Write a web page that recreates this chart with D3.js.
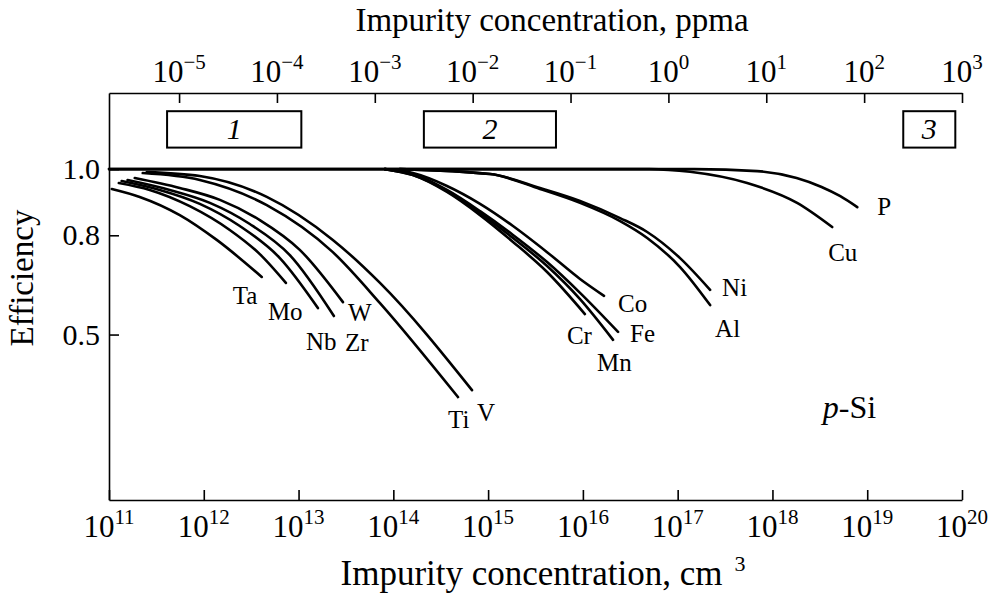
<!DOCTYPE html>
<html>
<head>
<meta charset="utf-8">
<script src="https://cdn.jsdelivr.net/npm/d3@7"></script>
<style>
body { margin: 0; background: #fff; }
svg { display: block; font-family: "Liberation Serif", "Times New Roman", serif; }
</style>
</head>
<body>
<svg id="chart" width="996" height="597"></svg>
<script>
// tick exponents
const cmExponents = [11, 12, 13, 14, 15, 16, 17, 18, 19, 20];
const ppmaExponents = [-5, -4, -3, -2, -1, 0, 1, 2, 3];
const effTicks = [0.5, 0.8, 1.0];

// efficiency vs impurity concentration (cm^-3), p-Si
const ta = [[1.07e11, 0.940], [2.11e11, 0.916], [5.58e11, 0.861], [1.37e12, 0.786], [4.09e12, 0.674]];
const mo = [[1.27e11, 0.958], [2.69e11, 0.937], [7.11e11, 0.888], [1.88e12, 0.816], [3.90e12, 0.743], [7.35e12, 0.656]];
const nb = [[1.36e11, 0.964], [3.43e11, 0.937], [9.08e11, 0.895], [2.40e12, 0.828], [6.35e12, 0.731], [1.60e13, 0.580]];
const zr = [[1.57e11, 0.967], [4.37e11, 0.937], [1.16e12, 0.898], [3.06e12, 0.834], [8.09e12, 0.740], [2.36e13, 0.556]];
const w  = [[1.87e11, 0.973], [5.58e11, 0.943], [1.48e12, 0.907], [3.90e12, 0.846], [1.03e13, 0.756], [2.94e13, 0.598]];
const ti = [[2.27e11, 0.988], [9.08e11, 0.967], [4.62e12, 0.891], [2.30e13, 0.749], [7.23e13, 0.595], [4.81e14, 0.311]];
const v  = [[2.50e11, 0.991], [9.08e11, 0.979], [4.62e12, 0.916], [2.30e13, 0.786], [7.23e13, 0.656], [6.76e14, 0.332]];
const cr = [[8.15e13, 1.0], [1.61e14, 0.982], [3.68e14, 0.931], [8.22e14, 0.861], [1.83e15, 0.780], [4.19e15, 0.689], [1.05e16, 0.562]];
const mn = [[8.15e13, 1.0], [1.61e14, 0.982], [3.68e14, 0.934], [8.22e14, 0.867], [1.83e15, 0.792], [4.19e15, 0.707], [9.33e15, 0.607], [2.08e16, 0.484]];
const fe = [[8.15e13, 1.0], [1.61e14, 0.985], [3.68e14, 0.937], [8.22e14, 0.873], [1.83e15, 0.801], [4.19e15, 0.719], [9.33e15, 0.626], [2.35e16, 0.508]];
const co = [[8.15e13, 1.0], [1.61e14, 0.988], [3.68e14, 0.949], [8.22e14, 0.895], [1.83e15, 0.828], [4.19e15, 0.749], [9.33e15, 0.668], [1.67e16, 0.617]];
const ni = [[1.17e14, 1.0], [1.05e15, 0.985], [3.53e15, 0.943], [9.33e15, 0.904], [2.47e16, 0.852], [4.77e16, 0.810], [1.06e17, 0.731], [2.20e17, 0.635]];
const al = [[1.17e14, 1.0], [1.05e15, 0.985], [3.53e15, 0.940], [9.33e15, 0.898], [2.47e16, 0.843], [4.77e16, 0.792], [1.06e17, 0.704], [2.20e17, 0.589]];
const cu = [[1e11, 1.0], [5.0e16, 1.0], [1.35e17, 0.992], [5.41e17, 0.958], [1.82e18, 0.898], [4.27e18, 0.825]];
const p  = [[1e11, 1.0], [1.5e17, 1.0], [6.90e17, 0.994], [1.8e18, 0.973], [3.3e18, 0.946], [5.2e18, 0.918], [7.85e18, 0.885]];

const series = [
  {name: 'Ta', pts: ta}, {name: 'Mo', pts: mo}, {name: 'Nb', pts: nb}, {name: 'Zr', pts: zr},
  {name: 'W', pts: w}, {name: 'Ti', pts: ti}, {name: 'V', pts: v},
  {name: 'Cr', pts: cr}, {name: 'Mn', pts: mn}, {name: 'Fe', pts: fe}, {name: 'Co', pts: co},
  {name: 'Ni', pts: ni}, {name: 'Al', pts: al}, {name: 'Cu', pts: cu}, {name: 'P', pts: p}
];

// purity ranges marked with boxes (cm^-3)
const boxes = [
  {label: '1', from: 4.1e11, to: 1.07e13},
  {label: '2', from: 2.1e14, to: 5.2e15},
  {label: '3', from: 2.4e19, to: 8.5e19}
];

// label offset from the end of each curve, px
const labelShift = {
  Ta: [-29, 27], Mo: [-18, 37], Nb: [-12, 42], Zr: [11, 35], W: [5, 19],
  Ti: [-10, 31], V: [5, 31], Co: [14, 16], Cr: [-18, 30], Fe: [12, 10],
  Mn: [-16, 31], Ni: [12, 6], Al: [5, 32], Cu: [-4, 34], P: [20, 8]
};

const margin = {top: 93, right: 34, bottom: 97, left: 109};
const width = 996 - margin.left - margin.right;
const height = 597 - margin.top - margin.bottom;

const x = d3.scaleLog().domain([1e11, 1e20]).range([0, width]);
const xTop = d3.scaleLog().domain([Math.pow(10, -5.716), 1e3]).range([0, width]);
const y = d3.scaleLinear().domain([0, 1.23]).range([height, 0]);

const svg = d3.select('#chart');
const chart = svg.append('g')
  .attr('transform', `translate(${margin.left}, ${margin.top})`);

function styleAxis(g) {
  g.attr('font-family', null).attr('font-size', null);
  g.select('.domain').attr('stroke', '#000').attr('stroke-width', 1.6);
  g.selectAll('.tick line').attr('stroke', '#000').attr('stroke-width', 1.6);
}

function powerLabel(sel, exp) {
  sel.append('tspan').text('10');
  sel.append('tspan')
    .attr('font-size', 21)
    .attr('dy', -13)
    .text(String(exp).replace('-', '\u2212'));
}

// bottom axis
chart.append('g')
  .attr('transform', `translate(0, ${height})`)
  .call(d3.axisBottom(x)
    .tickValues(cmExponents.map(e => Math.pow(10, e)))
    .tickSizeInner(-10).tickSizeOuter(0).tickFormat(''))
  .call(styleAxis);

cmExponents.forEach(e => {
  chart.append('text')
    .attr('x', x(Math.pow(10, e)))
    .attr('y', height + 37)
    .attr('text-anchor', 'middle')
    .attr('font-size', 31)
    .call(powerLabel, e);
});

// top axis
chart.append('g')
  .call(d3.axisTop(xTop)
    .tickValues(ppmaExponents.map(e => Math.pow(10, e)))
    .tickSizeInner(-10).tickSizeOuter(0).tickFormat(''))
  .call(styleAxis);

ppmaExponents.forEach(e => {
  chart.append('text')
    .attr('x', xTop(Math.pow(10, e)))
    .attr('y', -11)
    .attr('text-anchor', 'middle')
    .attr('font-size', 31)
    .call(powerLabel, e);
});

// left axis
chart.append('g')
  .call(d3.axisLeft(y)
    .tickValues(effTicks)
    .tickSizeInner(-10).tickSizeOuter(0).tickPadding(9)
    .tickFormat(d3.format('.1f')))
  .call(styleAxis)
  .selectAll('.tick text')
    .attr('font-size', 30)
    .attr('fill', '#000');

// axis titles
svg.append('text')
  .attr('x', 552).attr('y', 31)
  .attr('text-anchor', 'middle')
  .attr('font-size', 33)
  .text('Impurity concentration, ppma');

const bottomTitle = svg.append('text')
  .attr('x', 543).attr('y', 585)
  .attr('text-anchor', 'middle')
  .attr('font-size', 35);
bottomTitle.append('tspan').text('Impurity concentration, cm');
bottomTitle.append('tspan').attr('font-size', 22).attr('dx', 12).attr('dy', -14).text('3');

svg.append('text')
  .attr('transform', 'translate(33, 278) rotate(-90)')
  .attr('text-anchor', 'middle')
  .attr('font-size', 33)
  .text('Efficiency');

// boxes
const box = chart.selectAll('.box')
    .data(boxes)
  .enter().append('g')
    .attr('class', 'box');

box.append('rect')
  .attr('x', d => x(d.from))
  .attr('y', y(1.175))
  .attr('width', d => x(d.to) - x(d.from))
  .attr('height', y(1.065) - y(1.175))
  .attr('fill', 'none')
  .attr('stroke', '#000')
  .attr('stroke-width', 2);

box.append('text')
  .attr('x', d => (x(d.from) + x(d.to)) / 2)
  .attr('y', y(1.065) - 9)
  .attr('text-anchor', 'middle')
  .attr('font-size', 30)
  .attr('font-style', 'italic')
  .text(d => d.label);

// curves
const line = d3.line()
  .x(d => x(d[0]))
  .y(d => y(d[1]))
  .curve(d3.curveMonotoneX);

chart.selectAll('.curve')
    .data(series)
  .enter().append('path')
    .attr('class', 'curve')
    .attr('d', d => line(d.pts))
    .attr('fill', 'none')
    .attr('stroke', '#000')
    .attr('stroke-width', 2.6)
    .attr('stroke-linecap', 'round');

chart.selectAll('.curve-label')
    .data(series)
  .enter().append('text')
    .attr('class', 'curve-label')
    .attr('x', d => x(d.pts[d.pts.length - 1][0]) + labelShift[d.name][0])
    .attr('y', d => y(d.pts[d.pts.length - 1][1]) + labelShift[d.name][1])
    .attr('font-size', 25)
    .text(d => d.name);

// material note
const note = chart.append('text')
  .attr('x', x(3.4e18))
  .attr('y', y(0.248))
  .attr('font-size', 32);
note.append('tspan').attr('font-style', 'italic').text('p');
note.append('tspan').text('-Si');
</script>
</body>
</html>
